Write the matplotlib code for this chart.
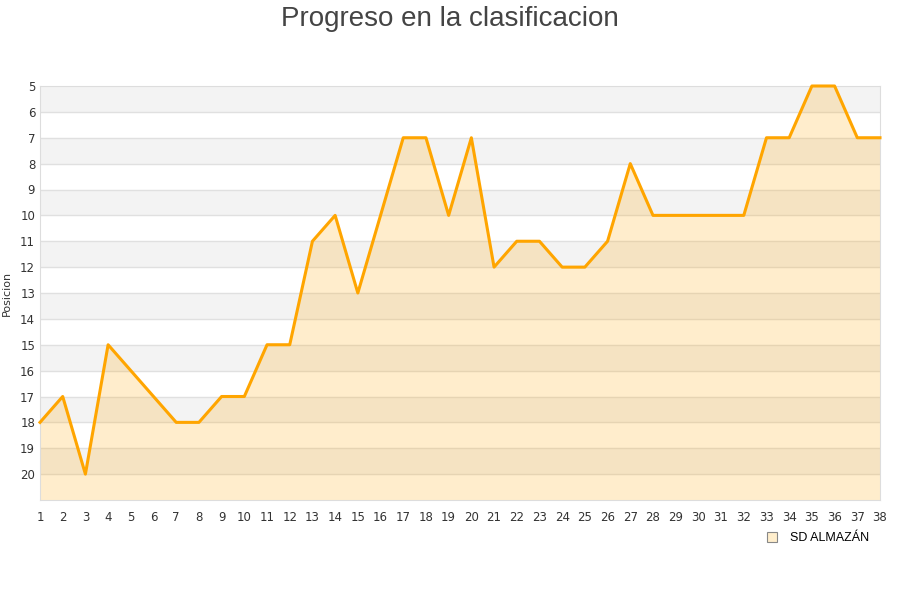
import numpy as np
import matplotlib.pyplot as plt
from matplotlib.patches import Patch

jornadas = list(range(1, 39))
posiciones = [18, 17, 20, 15, 16, 17, 18, 18, 17, 17, 15, 15, 11, 10, 13, 10, 7, 7, 10, 7,
              12, 11, 11, 12, 12, 11, 8, 10, 10, 10, 10, 10, 7, 7, 5, 5, 7, 7]
equipo = 'SD ALMAZÁN'

fig = plt.figure(figsize=(9, 6), dpi=100)
ax = fig.add_axes([40/900, 100/600, 840/900, 414/600])

ymin, ymax = 5, 21
# bandas alternas
for y in range(ymin, ymax):
    if (y - ymin) % 2 == 0:
        ax.axhspan(y, y + 1, color='#f3f3f3', zorder=0, lw=0)
for y in range(ymin + 1, ymax):
    ax.axhline(y, color='#e0e0e0', lw=1, zorder=1)

ax.fill_between(jornadas, posiciones, ymax, color='#ffa500', alpha=0.2, lw=0, zorder=2)
ax.plot(jornadas, posiciones, '-', color='#ffa500', lw=2.2, zorder=3, clip_on=False)

ax.set_xlim(1, 38)
ax.set_ylim(ymax, ymin)
ax.set_xticks(jornadas)
ax.set_yticks(range(5, 21))
ax.tick_params(axis='both', length=0, labelsize=8.5, colors='#333333')
ax.tick_params(axis='x', pad=8)
for s in ax.spines.values():
    s.set_color('#dddddd')
ax.set_ylabel('Posicion', fontsize=8, color='#333333', labelpad=6)

fig.suptitle('Progreso en la clasificacion', fontsize=20, color='#444444', y=0.99,
             family='Liberation Sans')

h = Patch(facecolor='#ffeecc', edgecolor='#888888', lw=0.8)
fig.legend([h], [equipo], loc='center', bbox_to_anchor=(818/900, 1 - 538/600),
           frameon=False, handlelength=0.8, handleheight=0.8, handletextpad=1.0,
           prop={'family': 'Liberation Sans', 'size': 9})

plt.savefig('out.png')
